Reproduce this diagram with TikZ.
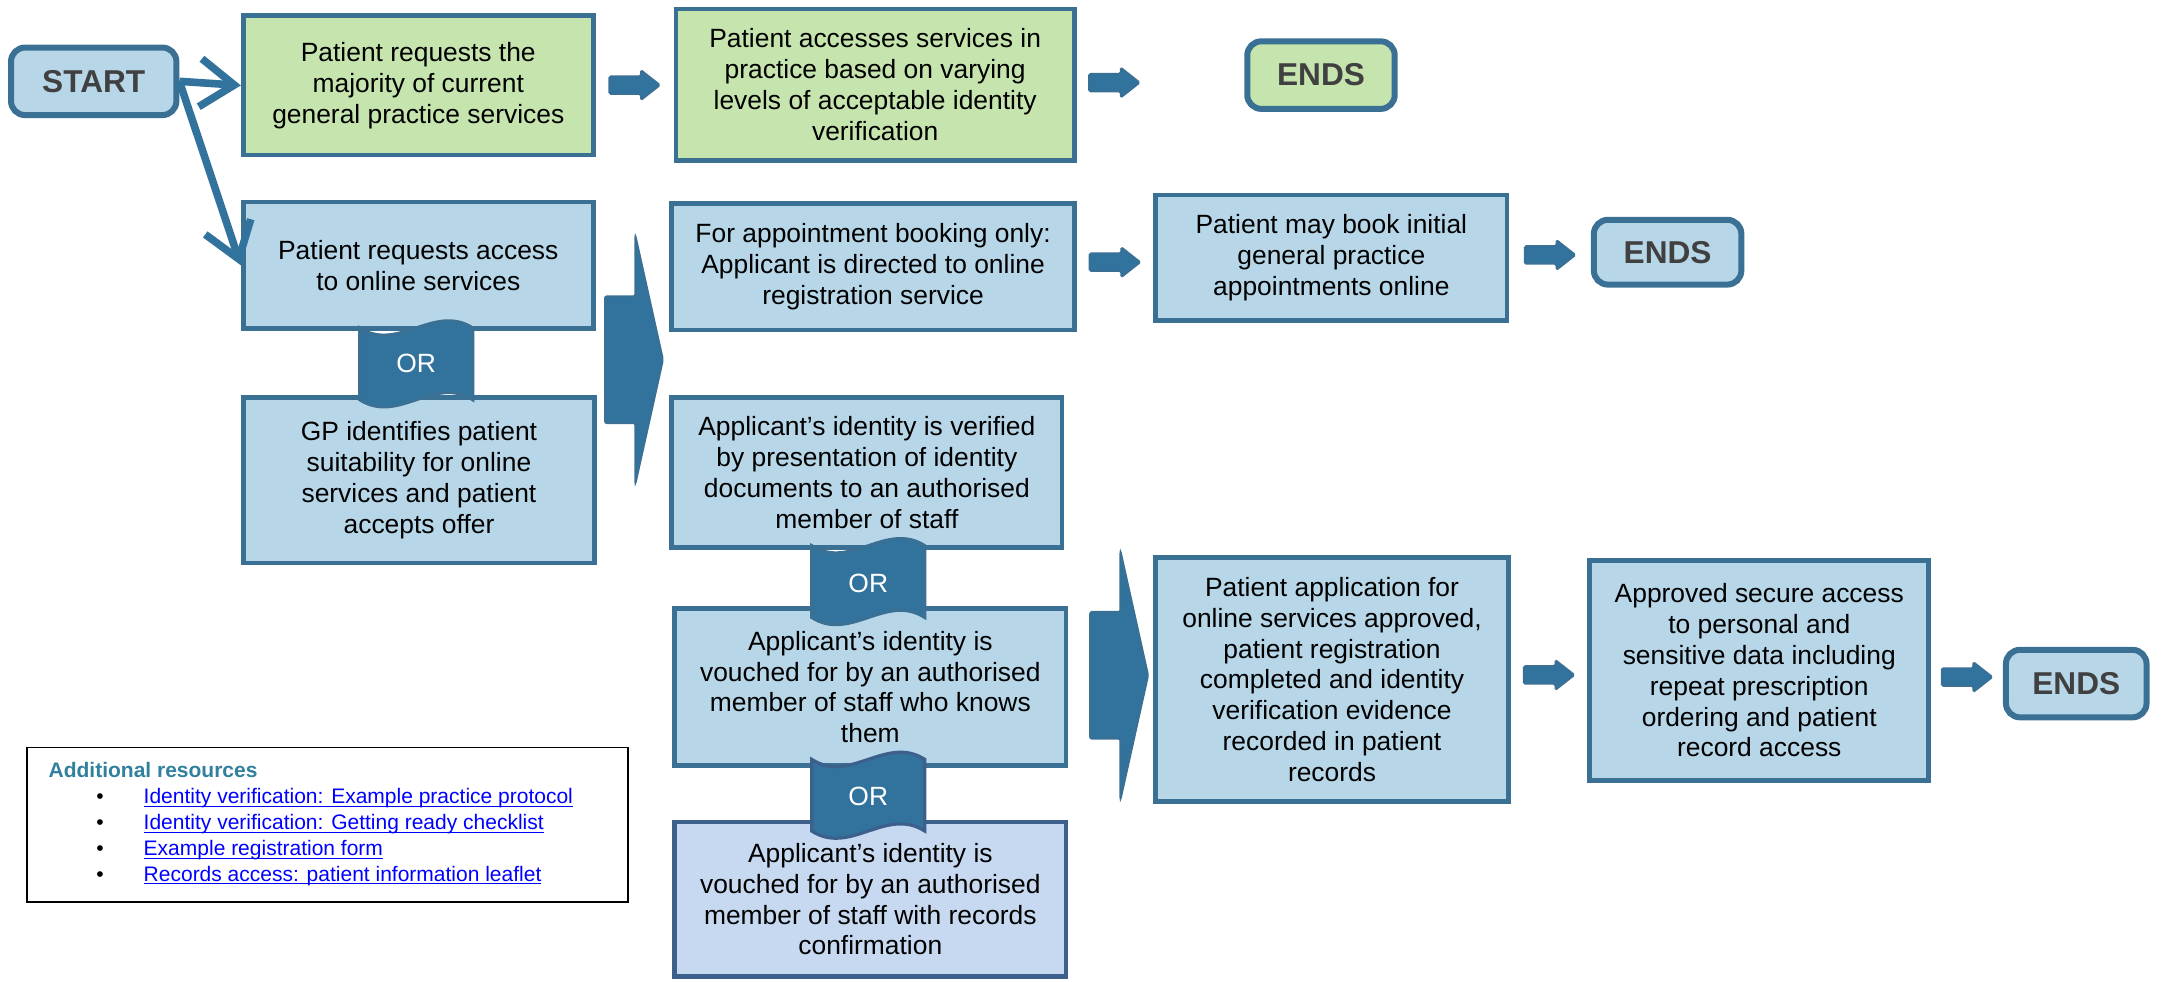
\documentclass[tikz,border=0pt]{standalone}
\usepackage{fontspec}
\setmainfont{Liberation Sans}
\usepackage{tikz}
\usetikzlibrary{arrows.meta, calc}

\definecolor{boxfill}{HTML}{B7D7E9}
\definecolor{greenfill}{HTML}{C6E5AE}
\definecolor{boxline}{HTML}{3A7094}
\definecolor{arrowblue}{HTML}{31739D}
\definecolor{arrowedge}{HTML}{3B6F94}
\definecolor{lastfill}{HTML}{C6D9F0}
\definecolor{lastline}{HTML}{3D5F8C}
\definecolor{endtext}{HTML}{404040}
\definecolor{titleteal}{HTML}{31809E}
\definecolor{linkblue}{HTML}{0000FF}

\newcommand{\pxu}{0.689pt}
\newcommand{\boxfont}{\fontsize{13.2}{15.4}\selectfont}
\newcommand{\termfont}{\fontsize{15.8}{18}\selectfont\bfseries}
\newcommand{\resfont}{\fontsize{10.5}{12.9}\selectfont}

\begin{document}
\begin{tikzpicture}[x=0.689pt, y=-0.689pt,
  procbox/.style={draw=boxline, fill=boxfill, line width=2.4pt, align=center, inner sep=2pt, font=\boxfont},
  greenproc/.style={procbox, fill=greenfill},
  recbox/.style={procbox, draw=lastline, fill=lastfill},
  termbox/.style={draw=boxline, fill=boxfill, line width=3pt, rounded corners=7pt, font=\termfont, text=endtext},
  boxsize/.style 2 args={minimum width=#1*\pxu, minimum height=#2*\pxu},
  ortext/.style={text=white, font=\boxfont, inner sep=0pt},
  startline/.style={arrowblue, line width=3.8pt, -{Straight Barb[length=17pt, width=24pt]}},
  blockarrow/.pic={\filldraw[fill=arrowblue, draw=arrowedge, line width=0.8pt, rounded corners=0.8pt] (-18.5,-6.5) -- (4.5,-6.5) -- (4.5,-11) -- (18.5,0) -- (4.5,11) -- (4.5,6.5) -- (-18.5,6.5) -- cycle;},
  chevron/.pic={\filldraw[fill=arrowblue, draw=arrowedge, line width=1pt, rounded corners=1pt] (-20,-46) -- (2,-46) -- (2,-90) -- (22,0) -- (2,90) -- (2,46) -- (-20,46) -- cycle;},
  orband/.pic={\filldraw[fill=arrowblue, draw=#1, line width=1.6pt] (-41,-26) .. controls (-13,-8) and (13,-44) .. (41,-26) -- (41,26) .. controls (13,8) and (-13,44) .. (-41,26) -- cycle;}
]
\useasboundingbox (0,0) rectangle (1568,712);

\node[termbox, boxsize={120}{49}] (start) at (68,59) {START};
\node[greenproc, boxsize={254}{101}] (g1) at (303.5,62) {Patient requests the\\majority of current\\general practice services};
\node[greenproc, boxsize={289}{110}] (g2) at (635,61.5) {Patient accesses services in\\practice based on varying\\levels of acceptable identity\\verification};
\node[termbox, fill=greenfill, boxsize={107}{49}] (ends1) at (958.5,54.5) {ENDS};

\node[procbox, boxsize={254}{92}] (online) at (303.5,192.5) {Patient requests access\\to online services};
\node[procbox, boxsize={255}{120}] (gp) at (304,348.5) {GP identifies patient\\suitability for online\\services and patient\\accepts offer};
\node[procbox, boxsize={292}{92}] (appt) at (633.5,193.5) {For appointment booking only:\\Applicant is directed to online\\registration service};
\node[procbox, boxsize={255}{91}] (book) at (966,187) {Patient may book initial\\general practice\\appointments online};
\node[termbox, boxsize={107}{47}] (ends2) at (1210,183) {ENDS};

\node[procbox, boxsize={283}{109}] (verified) at (629,343) {Applicant’s identity is verified\\by presentation of identity\\documents to an authorised\\member of staff};
\node[procbox, boxsize={284}{114}] (knows) at (631.5,498.5) {Applicant’s identity is\\vouched for by an authorised\\member of staff who knows\\them};
\node[recbox, boxsize={284}{112}] (records) at (631.5,652.5) {Applicant’s identity is\\vouched for by an authorised\\member of staff with records\\confirmation};
\node[procbox, boxsize={256}{177}] (approved) at (966.5,493) {Patient application for\\online services approved,\\patient registration\\completed and identity\\verification evidence\\recorded in patient\\records};
\node[procbox, boxsize={246}{160}] (access) at (1276.5,486.5) {Approved secure access\\to personal and\\sensitive data including\\repeat prescription\\ordering and patient\\record access};
\node[termbox, boxsize={102}{49}] (ends3) at (1506.5,496) {ENDS};

\pic at (302,264) {orband=boxline};
\node[ortext] (or1) at (302,264) {OR};
\pic at (630,422) {orband=boxline};
\node[ortext] (or2) at (630,423) {OR};
\pic at (630,577) {orband=lastline};
\node[ortext] (or3) at (630,578) {OR};

\draw[startline] (start.east) -- (g1.west);
\draw[startline] (start.east) -- (online.west);

\pic at ($(g1.east)!0.5!(g2.west)$) {blockarrow};
\pic at ($(g2.east)!0.225!(ends1.west)$) {blockarrow};
\pic at ($(appt.east)!0.5!(book.west)$) {blockarrow};
\pic at ($(book.east)!0.5!(ends2.west)$) {blockarrow};
\pic at ($(approved.east)!0.5!(access.west)$) {blockarrow};
\pic at ($(access.east)!0.5!(ends3.west)$) {blockarrow};

\pic at (459,261) {chevron};
\pic at (811,490) {chevron};

\node[draw=black, line width=0.8pt, boxsize={436}{112}] (res) at (237.5,598.5) {};
\node[anchor=base west, inner sep=0pt, font=\resfont\bfseries, text=titleteal] (restitle) at (35,564.5) {Additional resources};
\foreach \txt [count=\i] in {Identity verification: Example practice protocol, Identity verification: Getting ready checklist, Example registration form, Records access: patient information leaflet}{
  \node[anchor=base, inner sep=0pt, font=\resfont] (bul\i) at (72.6,{564.5+18.7*\i}) {\textbullet};
  \node[anchor=base west, inner sep=0pt, font=\resfont, text=linkblue] (item\i) at (104,{564.5+18.7*\i}) {\underline{\smash{\txt}}};
}
\end{tikzpicture}
\end{document}
